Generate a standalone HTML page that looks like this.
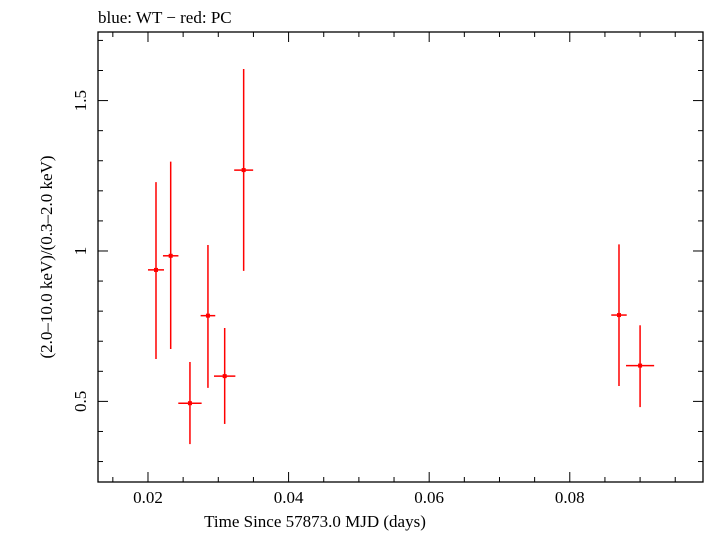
<!DOCTYPE html>
<html><head><meta charset="utf-8"><style>
body{margin:0;background:#fff;}
svg text{font-family:"Liberation Serif",serif;font-size:17px;fill:#000;}
</style></head><body>
<svg id="chart" width="705" height="532" xmlns="http://www.w3.org/2000/svg">
<text x="98" y="23">blue: WT − red: PC</text>
<rect x="98" y="32" width="605" height="450" fill="none" stroke="#000" stroke-width="1.3"/>
<g id="ticks"></g>
<g id="points"></g>
<text x="315" y="527" text-anchor="middle">Time Since 57873.0 MJD (days)</text>
<text transform="translate(52,257) rotate(-90)" text-anchor="middle">(2.0–10.0 keV)/(0.3–2.0 keV)</text>
</svg>
<script>
const times=[0.02114,0.02323,0.02597,0.02853,0.03091,0.03361,0.0870,0.0900];
const timeErr=[0.00114,0.0011,0.00166,0.00104,0.00152,0.00135,0.0011,0.0020];
const ratios=[0.937,0.984,0.494,0.785,0.584,1.269,0.787,0.619];
const ratioHi=[1.229,1.297,0.631,1.020,0.744,1.605,1.022,0.753];
const ratioLo=[0.641,0.674,0.358,0.545,0.425,0.934,0.551,0.481];
const xTickLabels=["0.02","0.04","0.06","0.08"];
const yTickLabels=["0.5","1","1.5"];
const L=98,R=703,T=32,B=482;
const xMin=0.01289,xMax=0.09895,yMin=0.232,yMax=1.728;
const X=v=>L+(v-xMin)/(xMax-xMin)*(R-L);
const Y=v=>B-(v-yMin)/(yMax-yMin)*(B-T);
const NS="http://www.w3.org/2000/svg";
function mk(tag,attrs,parent){const e=document.createElementNS(NS,tag);for(const k in attrs)e.setAttribute(k,attrs[k]);parent.appendChild(e);return e;}
const tg=document.getElementById('ticks');
for(let i=0;i<20;i++){const v=0.015+i*0.005;if(v>xMax)break;const major=Math.abs(v/0.02-Math.round(v/0.02))<1e-6;const len=major?10:5;const x=X(v);
const t1=mk('line',{x1:x,x2:x,y1:B,y2:B-len,stroke:'#000','stroke-width':1},tg);


const t2=mk('line',{x1:x,x2:x,y1:T,y2:T+len,stroke:'#000','stroke-width':1},tg);

}
xTickLabels.forEach(s=>{const t=mk('text',{x:X(+s),y:503,'text-anchor':'middle'},tg);t.textContent=s;

});
for(let i=0;i<20;i++){const v=0.3+i*0.1;if(v>yMax)break;const major=Math.abs(v*2-Math.round(v*2))<1e-6;const len=major?10:5;const y=Y(v);
const t1=mk('line',{x1:L,x2:L+len,y1:y,y2:y,stroke:'#000','stroke-width':1},tg);


const t2=mk('line',{x1:R,x2:R-len,y1:y,y2:y,stroke:'#000','stroke-width':1},tg);

}
yTickLabels.forEach(s=>{const t=mk('text',{transform:`translate(86,${Y(+s)}) rotate(-90)`,'text-anchor':'middle'},tg);t.textContent=s;

});
const pg=document.getElementById('points');
times.forEach((t,i)=>{const g=mk('g',{},pg);


mk('line',{x1:X(t),x2:X(t),y1:Y(ratioHi[i]),y2:Y(ratioLo[i]),stroke:'#f00','stroke-width':1.5},g);
mk('line',{x1:X(t-timeErr[i]),x2:X(t+timeErr[i]),y1:Y(ratios[i]),y2:Y(ratios[i]),stroke:'#f00','stroke-width':1.5},g);
mk('rect',{x:X(t)-2,y:Y(ratios[i])-2,width:4,height:4,fill:'#f00'},g);});
</script>
</body></html>
